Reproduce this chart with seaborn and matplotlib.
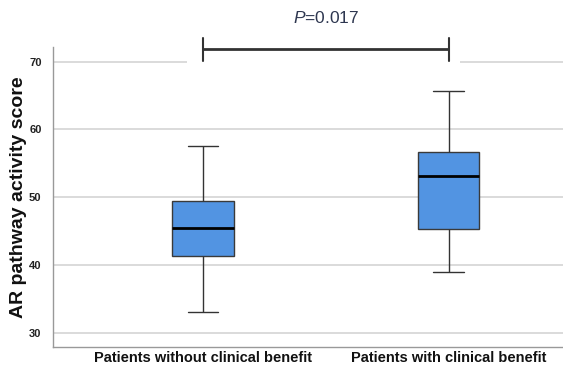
import matplotlib
matplotlib.use("Agg")
import matplotlib.pyplot as plt
from matplotlib.patches import Rectangle
import seaborn as sns
import pandas as pd

# Group labels and five-number summaries (min, Q1, median, Q3, max)
groups = ["Patients without clinical benefit", "Patients with clinical benefit"]
no_benefit_scores = [33.1, 41.3, 45.4, 49.4, 57.6]
benefit_scores = [38.9, 45.3, 53.2, 56.6, 65.7]
y_ticks = [30, 40, 50, 60, 70]
p_label = r"$\it{P}$=0.017"

df = pd.DataFrame({
    "group": [groups[0]] * len(no_benefit_scores) + [groups[1]] * len(benefit_scores),
    "score": no_benefit_scores + benefit_scores,
})

sns.set_theme(style="white")
plt.rcParams["font.family"] = ["Liberation Sans", "DejaVu Sans"]
plt.rcParams["mathtext.fontset"] = "custom"
plt.rcParams["mathtext.rm"] = "Liberation Sans"
plt.rcParams["mathtext.it"] = "Liberation Sans:italic"

fig = plt.figure(figsize=(5.63, 3.67), dpi=100)
ax = fig.add_axes([0.0936, 0.0537, 0.9064, 0.8191])

sns.boxplot(
    data=df, x="group", y="score", ax=ax,
    whis=(0, 100), width=0.25, color="#5294e2", linecolor="#3a3a3a",
    linewidth=1.0, saturation=1,
    medianprops=dict(color="black", linewidth=2.0),
    whiskerprops=dict(color="#333333", linewidth=1.0),
    capprops=dict(color="#333333", linewidth=1.0),
)

ax.set_xlim(-0.612, 1.466)
ax.set_ylim(27.85, 72.21)
ax.set_yticks(y_ticks)
ax.set_yticklabels([str(t) for t in y_ticks], fontsize=8, fontweight="bold",
                   color="#222222", family=["Liberation Sans Narrow", "Liberation Sans"])
ax.tick_params(axis="y", length=0, pad=8)
ax.tick_params(axis="x", length=0, pad=3)
for lab in ax.get_xticklabels():
    lab.set_fontsize(10.5)
    lab.set_fontweight("bold")
    lab.set_color("#111111")
ax.set_xlabel("")
ax.set_ylabel("AR pathway activity score", fontsize=14, fontweight="bold",
              color="#111111")
ax.yaxis.set_label_coords(-0.05, 0.5)

ax.set_axisbelow(True)
ax.yaxis.grid(True, color="#d4d4d4", linewidth=1.2)
ax.xaxis.grid(False)
for side in ("top", "right"):
    ax.spines[side].set_visible(False)
for side in ("left", "bottom"):
    ax.spines[side].set_color("#999999")
    ax.spines[side].set_linewidth(1.0)

# Significance bracket with a white backing over the gridline
ax.add_patch(Rectangle((-0.065, 69.3), 1.112, 3.0, facecolor="white",
                       edgecolor="none", zorder=1.5, clip_on=False))
yb = 71.83
ax.plot([0, 1], [yb, yb], color="#333333", linewidth=2.0, clip_on=False,
        zorder=5, solid_capstyle="butt")
for xp in (0, 1):
    ax.plot([xp, xp], [yb - 1.7, yb + 1.7], color="#333333", linewidth=1.5,
            clip_on=False, zorder=5)
ax.text(0.5, 76.4, p_label, ha="center", va="center", fontsize=12.5,
        color="#2e3750", clip_on=False)

fig.savefig("out.png", dpi=100)
